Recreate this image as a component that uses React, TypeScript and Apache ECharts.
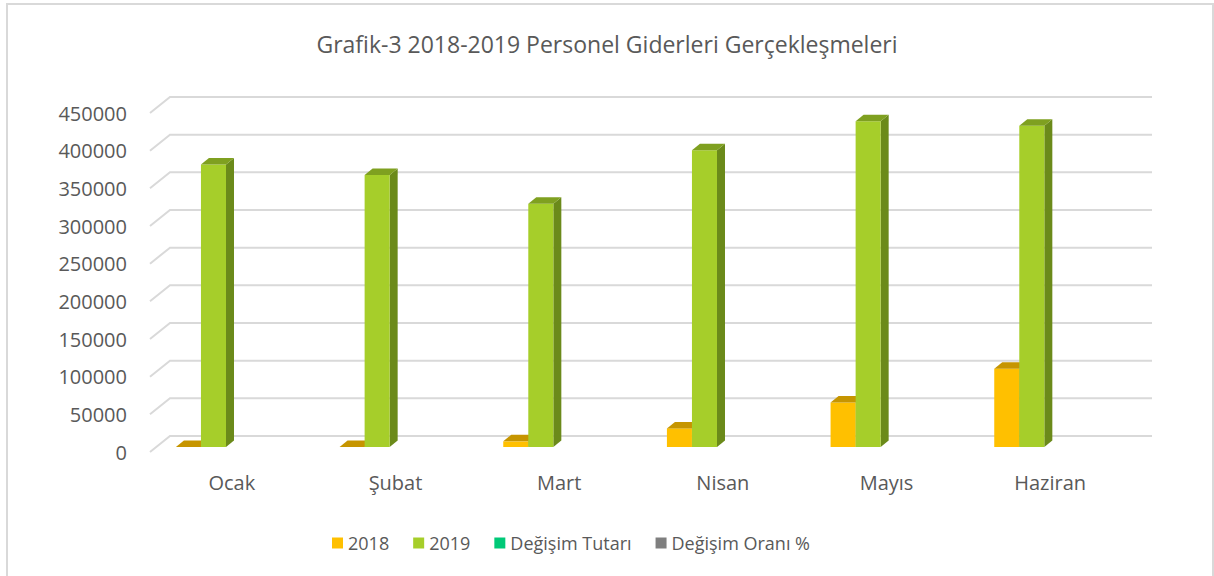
import React, { useEffect, useRef } from "react";
import * as echarts from "echarts";

const categories = ["Ocak", "Şubat", "Mart", "Nisan", "Mayıs", "Haziran"];
const values2018 = [0, 0, 7500, 24700, 59000, 104000];
const values2019 = [375000, 361000, 323000, 394000, 432500, 426500];
const valuesDegisimTutari: number[] = [];
const valuesDegisimOrani: number[] = [];
const yTicks = [0, 50000, 100000, 150000, 200000, 250000, 300000, 350000, 400000, 450000];

const TEXT = "#595959";
const GRID = "#d9d9d9";
const FONT = "'Open Sans', 'Noto Sans', sans-serif";

// 3D depth offsets (px)
const WALL_DX = 20;
const WALL_DY = 16;
const BAR_DX = 8;
const BAR_DY = 6.5;
const BASE_SHIFT_X = 6;
const BASE_SHIFT_Y = 5;

function bar3D(slot: number, front: string, side: string, top: string) {
  return (params: any, api: any) => {
    const idx = api.value(0);
    const v = api.value(1);
    const p = api.coord([idx, v]);
    const p0 = api.coord([idx, 0]);
    const band = api.size([1, 0])[0];
    const bw = band * 0.153;
    const x = p[0] - band * 0.305 - BASE_SHIFT_X + slot * bw;
    const yt = p[1] - BASE_SHIFT_Y;
    const yb = p0[1] - BASE_SHIFT_Y;
    const h = Math.max(0, yb - yt);
    return {
      type: "group",
      children: [
        {
          type: "polygon",
          shape: {
            points: [
              [x + bw, yt],
              [x + bw + BAR_DX, yt - BAR_DY],
              [x + bw + BAR_DX, yb - BAR_DY],
              [x + bw, yb],
            ],
          },
          style: { fill: side },
        },
        {
          type: "rect",
          shape: { x, y: yt, width: bw, height: h },
          style: { fill: front },
        },
        {
          type: "polygon",
          shape: {
            points: [
              [x, yt],
              [x + bw, yt],
              [x + bw + BAR_DX, yt - BAR_DY],
              [x + BAR_DX, yt - BAR_DY],
            ],
          },
          style: { fill: top },
        },
      ],
    };
  };
}

export default function App() {
  const ref = useRef<HTMLDivElement>(null);
  useEffect(() => {
    document.body.style.margin = "0";
    const chart = echarts.init(ref.current!, undefined, { renderer: "svg" });
    const option: any = {
      animation: false,
      backgroundColor: "#ffffff",
      textStyle: { fontFamily: FONT },
      title: {
        text: "Grafik-3 2018-2019 Personel Giderleri Gerçekleşmeleri",
        left: "center",
        top: 27,
        textStyle: { color: TEXT, fontSize: 23, fontWeight: "normal", fontFamily: FONT },
      },
      graphic: [
        {
          type: "rect",
          shape: { x: 7, y: 4, width: 1206, height: 640 },
          style: { fill: "none", stroke: GRID, lineWidth: 2 },
          silent: true,
          z: 100,
        },
      ],
      legend: {
        top: 529,
        left: 327,
        itemWidth: 11,
        itemHeight: 11,
        itemGap: 24,
        icon: "rect",
        textStyle: { color: TEXT, fontSize: 18, fontFamily: FONT },
        data: ["2018", "2019", "Değişim Tutarı", "Değişim Oranı %"],
      },
      grid: { left: 150, right: 82, top: 113, bottom: 124, containLabel: false },
      xAxis: {
        type: "category",
        data: categories,
        axisLine: { show: false },
        axisTick: { show: false },
        axisLabel: { color: TEXT, fontSize: 20, margin: 20, fontFamily: FONT },
        splitLine: { show: false },
      },
      yAxis: {
        type: "value",
        min: 0,
        max: 450000,
        interval: 50000,
        axisLine: { show: false },
        axisTick: { show: false },
        splitLine: { show: false },
        axisLabel: {
          color: TEXT,
          fontSize: 20,
          margin: 23,
          fontFamily: FONT,
          formatter: (v: number) => String(v),
        },
      },
      series: [
        {
          name: "grid",
          type: "custom",
          silent: true,
          z: 1,
          data: yTicks.map((t) => [0, t]),
          renderItem: (params: any, api: any) => {
            const cs = params.coordSys;
            const y = api.coord([0, api.value(1)])[1];
            return {
              type: "polyline",
              shape: {
                points: [
                  [cs.x, y],
                  [cs.x + WALL_DX, y - WALL_DY],
                  [cs.x + cs.width + WALL_DX, y - WALL_DY],
                ],
              },
              style: { stroke: GRID, lineWidth: 2, fill: "none" },
            };
          },
        },
        {
          name: "2018",
          type: "custom",
          z: 2,
          itemStyle: { color: "#FFC000" },
          data: values2018.map((v, i) => [i, v]),
          renderItem: bar3D(0, "#FFC000", "#B98C00", "#C69500"),
        },
        {
          name: "2019",
          type: "custom",
          z: 3,
          itemStyle: { color: "#A6CE2A" },
          data: values2019.map((v, i) => [i, v]),
          renderItem: bar3D(1, "#A6CE2A", "#6B8A1A", "#7FA020"),
        },
        {
          name: "Değişim Tutarı",
          type: "custom",
          itemStyle: { color: "#00C978" },
          data: valuesDegisimTutari.map((v, i) => [i, v]),
          renderItem: () => null,
        },
        {
          name: "Değişim Oranı %",
          type: "custom",
          itemStyle: { color: "#7F7F7F" },
          data: valuesDegisimOrani.map((v, i) => [i, v]),
          renderItem: () => null,
        },
      ],
    };
    chart.setOption(option);
    return () => chart.dispose();
  }, []);
  return <div ref={ref} style={{ width: 1214, height: 576 }} />;
}
